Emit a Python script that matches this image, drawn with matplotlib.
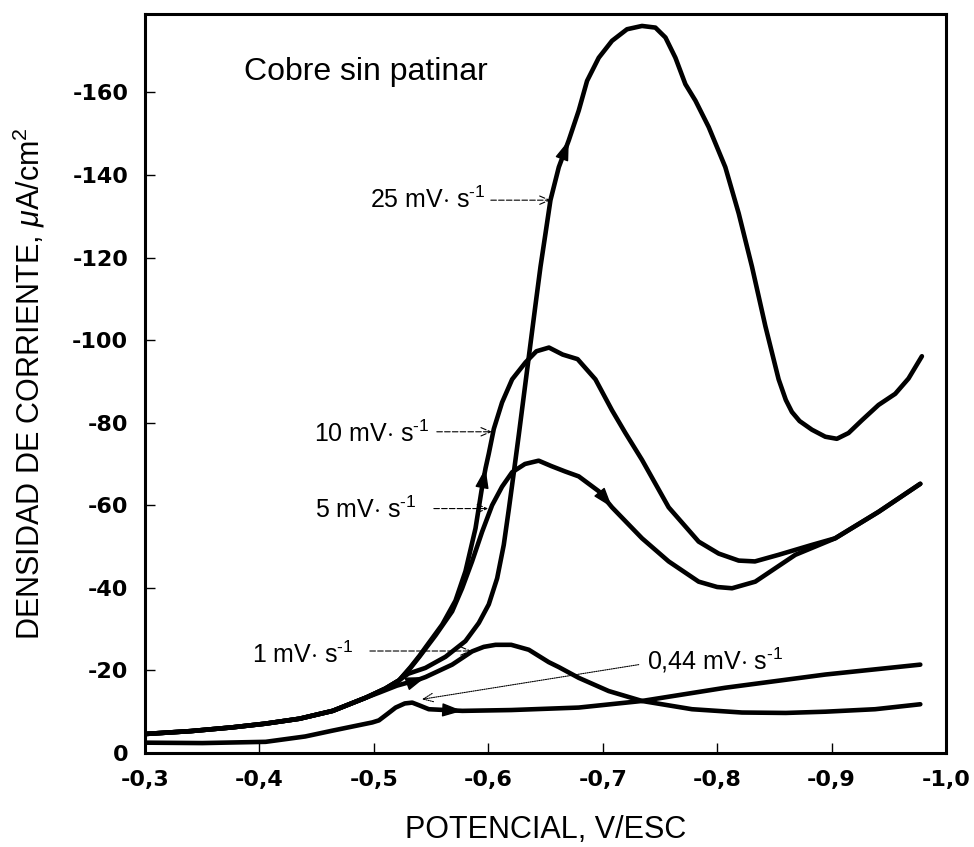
import matplotlib
matplotlib.use('Agg')
import matplotlib.pyplot as plt

plt.rcParams['font.family'] = ['Liberation Sans', 'DejaVu Sans']
plt.rcParams['mathtext.fontset'] = 'custom'
plt.rcParams['mathtext.rm'] = 'Liberation Sans'
plt.rcParams['mathtext.it'] = 'Liberation Sans:italic'
plt.rcParams['mathtext.bf'] = 'Liberation Sans:bold'

# common start of the 25, 10, 5 and 1 mV/s sweeps
v_env = [-0.300, -0.340, -0.376, -0.405, -0.435, -0.464, -0.493]
i_env = [-4.6, -5.3, -6.2, -7.1, -8.3, -10.2, -13.4]

v_25 = v_env + [-0.510, -0.522, -0.530, -0.545, -0.5626, -0.580, -0.5917, -0.6004, -0.6077, -0.6135,
                -0.6179, -0.6223, -0.6266, -0.6310, -0.6354, -0.6412, -0.6456, -0.650, -0.6543, -0.6616,
                -0.6703, -0.679, -0.6863, -0.6965, -0.7081, -0.7212, -0.7343, -0.746, -0.7548, -0.7635,
                -0.7722, -0.781, -0.7926, -0.8071, -0.8188, -0.8304, -0.8421, -0.8537, -0.8600, -0.8653,
                -0.8720, -0.8828, -0.8945, -0.9046, -0.9148, -0.9265, -0.941, -0.9556, -0.9672, -0.9789]
i_25 = i_env + [-15.6, -17.6, -19.2, -20.6, -23.3, -27.1, -31.5, -36.0, -42.3, -50.4,
                -59.0, -68.0, -77.0, -86.5, -96.0, -108.5, -117.8, -125.9, -133.9, -141.9,
                -148.4, -155.6, -162.8, -168.4, -172.5, -175.3, -176.1, -175.7, -173.3, -168.4,
                -162.0, -158.0, -151.6, -141.9, -130.7, -117.8, -103.4, -90.5, -85.5, -82.6,
                -80.4, -78.3, -76.6, -76.1, -77.5, -80.6, -84.3, -87.0, -90.7, -96.1]

v_10 = v_env + [-0.510, -0.522, -0.532, -0.540, -0.5452, -0.5597, -0.5713, -0.580, -0.5888, -0.5946,
                -0.5976, -0.6004, -0.6048, -0.612, -0.6208, -0.6325, -0.642, -0.653, -0.665, -0.678,
                -0.6936, -0.7081, -0.7198, -0.7343, -0.7576, -0.7838, -0.8013, -0.8188, -0.833, -0.8537,
                -0.8828, -0.9031, -0.941, -0.9775]
i_10 = i_env + [-15.6, -17.6, -20.8, -23.6, -25.6, -31.1, -36.9, -44.0, -54.4, -64.5,
                -69.0, -72.5, -78.5, -84.9, -90.5, -94.6, -97.3, -98.2, -96.5, -95.4,
                -90.5, -83.0, -77.5, -71.0, -59.5, -51.2, -48.3, -46.6, -46.4, -48.0,
                -50.4, -52.0, -58.4, -65.2]

v_5 = v_env + [-0.510, -0.522, -0.532, -0.540, -0.5539, -0.5684, -0.5771, -0.5858, -0.5946, -0.6033,
               -0.612, -0.6208, -0.632, -0.644, -0.655, -0.667, -0.679, -0.6965, -0.7081, -0.7343,
               -0.7576, -0.7838, -0.800, -0.813, -0.8333, -0.8683, -0.9031, -0.941, -0.9775]
i_5 = i_env + [-15.6, -17.6, -20.6, -23.4, -28.5, -34.3, -39.9, -46.4, -53.6, -60.0,
               -64.5, -68.0, -70.0, -70.8, -69.5, -68.2, -67.0, -63.4, -59.5, -52.0,
               -46.4, -41.5, -40.2, -39.9, -41.5, -48.0, -52.0, -58.4, -65.2]

v_1 = v_env + [-0.5044, -0.520, -0.5393, -0.5452, -0.5684, -0.5858, -0.5960, -0.6063, -0.620, -0.6354,
               -0.6528, -0.6616, -0.679, -0.7052, -0.7343, -0.778, -0.8217, -0.860, -0.8945, -0.938,
               -0.9775]
i_1 = i_env + [-14.6, -16.3, -17.8, -18.4, -21.4, -24.6, -25.7, -26.2, -26.2, -25.0,
               -22.0, -20.8, -18.2, -15.0, -12.6, -10.6, -9.8, -9.7, -10.0, -10.6,
               -11.8]

v_044 = [-0.300, -0.350, -0.4054, -0.440, -0.4636, -0.4986, -0.5044, -0.512, -0.519, -0.527,
         -0.5335, -0.540, -0.548, -0.5773, -0.620, -0.679, -0.7343, -0.807, -0.8945, -0.9775]
i_044 = [-2.5, -2.4, -2.7, -4.0, -5.4, -7.4, -7.9, -9.5, -11.0, -12.0,
         -12.2, -11.5, -10.6, -10.2, -10.4, -11.0, -12.6, -15.8, -19.0, -21.4]

curves = [(v_25, i_25), (v_10, i_10), (v_5, i_5), (v_1, i_1), (v_044, i_044)]
# potential where each sweep carries its direction arrow
arrow_at = [-0.6703, -0.5976, -0.7081, -0.5452, -0.5773]

labels = [r'25 mV$\cdot$ s$^{\text{-}1}$', r'10 mV$\cdot$ s$^{\text{-}1}$', r'5 mV$\cdot$ s$^{\text{-}1}$',
          r'1 mV$\cdot$ s$^{\text{-}1}$', r'0,44 mV$\cdot$ s$^{\text{-}1}$']

xticks = [-0.3, -0.4, -0.5, -0.6, -0.7, -0.8, -0.9, -1.0]
xticklabels = ['-0,3', '-0,4', '-0,5', '-0,6', '-0,7', '-0,8', '-0,9', '-1,0']
yticks = [0, -20, -40, -60, -80, -100, -120, -140, -160]
yticklabels = ['0', '-20', '-40', '-60', '-80', '-100', '-120', '-140', '-160']

fig = plt.figure(figsize=(9.74, 8.47), dpi=100)
ax = fig.add_axes([0.1489, 0.111, 0.8224, 0.8725])

for (v, i), va in zip(curves, arrow_at):
    ax.plot(v, i, color='black', lw=3.3, solid_capstyle='round', solid_joinstyle='round')
    k = v.index(va)
    ax.annotate('', xy=(v[k], i[k]), xytext=(v[k - 1], i[k - 1]),
                arrowprops=dict(arrowstyle='-|>,head_length=0.5,head_width=0.17',
                                mutation_scale=25, color='black', lw=1,
                                shrinkA=0, shrinkB=0))

# labels with their pointer lines
lab_pos = [(-0.5978, -132.1, 'right'), (-0.5489, -75.3, 'right'), (-0.5376, -56.8, 'right'),
           (-0.4825, -21.9, 'right'), (-0.7384, -20.2, 'left')]
ptr_from = [(-0.6022, -133.9), (-0.5550, -77.8), (-0.5524, -59.2), (-0.4965, -24.7), (-0.7314, -21.4)]
ptr_to = [(-0.6546, -133.9), (-0.6033, -77.8), (-0.6000, -59.2), (-0.5856, -24.7), (-0.5419, -13.0)]

for lab, (x, y, ha), p0, p1 in zip(labels, lab_pos, ptr_from, ptr_to):
    ax.text(x, y, lab, fontsize=18, ha=ha, va='baseline')
    ls = (0, (1, 1)) if ha == 'left' else (0, (5, 2))
    ax.annotate('', xy=p1, xytext=p0,
                arrowprops=dict(arrowstyle='->,head_length=0.35,head_width=0.15',
                                mutation_scale=20, color='black', lw=0.8,
                                linestyle=ls, shrinkA=0, shrinkB=0))

ax.text(-0.3865, -163.0, 'Cobre sin patinar', fontsize=23, ha='left', va='baseline')

ax.set_xlim(-0.3, -1.0)
ax.set_ylim(0, -179)
ax.set_xticks(xticks)
ax.set_xticklabels(xticklabels, family='DejaVu Sans', fontweight='bold', fontsize=16)
ax.set_yticks(yticks)
ax.set_yticklabels(yticklabels, family='DejaVu Sans', fontweight='bold', fontsize=16)
ax.tick_params(direction='in', length=7, width=1, pad=12)

for s in ax.spines.values():
    s.set_linewidth(2.2)

ax.set_xlabel('POTENCIAL, V/ESC', fontsize=22, labelpad=18)
ax.set_ylabel(r'DENSIDAD DE CORRIENTE, $\mu$A/cm$^2$', fontsize=22, labelpad=18)

fig.savefig('out.png', dpi=100)
